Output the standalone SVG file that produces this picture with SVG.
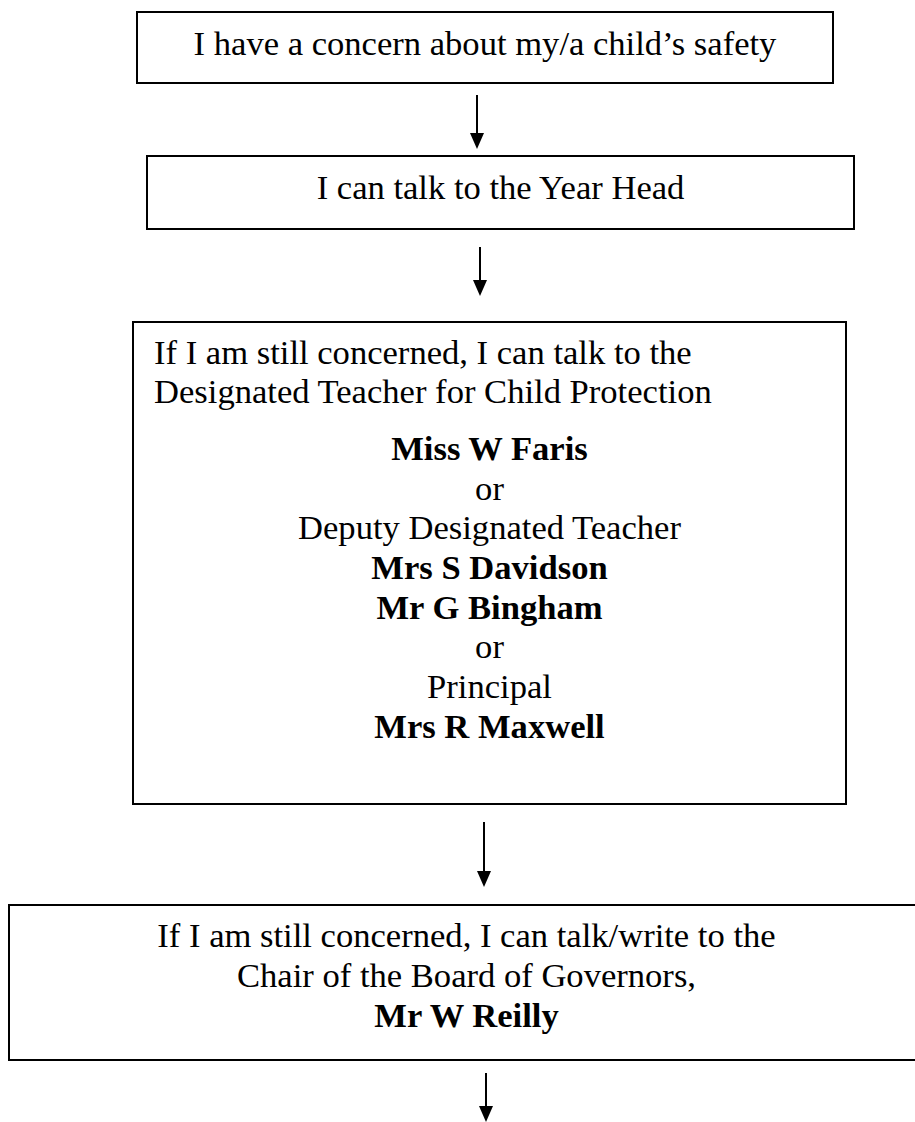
<svg xmlns="http://www.w3.org/2000/svg" width="915" height="1122" viewBox="0 0 915 1122">
<style>
.box{fill:#fff;stroke:#000;stroke-width:2}
.t{font-family:"Liberation Serif","Times New Roman",serif;font-size:34.6px;fill:#000}
.c{text-anchor:middle}
.b{font-weight:bold}
.conn{stroke:#000;stroke-width:2;fill:none}
.head{fill:#000}
</style>
<rect width="915" height="1122" fill="#fff"/>
<g id="connectors">
<path class="conn" d="M477,95 V133"/>
<path class="head" d="M470,133 L484,133 L477,149 Z"/>
<path class="conn" d="M480,247 V280"/>
<path class="head" d="M473,280 L487,280 L480,296 Z"/>
<path class="conn" d="M484,822 V871"/>
<path class="head" d="M477,871 L491,871 L484,887 Z"/>
<path class="conn" d="M486,1073 V1106"/>
<path class="head" d="M479,1106 L493,1106 L486,1122 Z"/>
</g>
<g id="node1">
<rect class="box" x="137" y="12" width="696" height="71"/>
<text class="t c" x="485" y="55">I have a concern about my/a child’s safety</text>
</g>
<g id="node2">
<rect class="box" x="147" y="156" width="707" height="73"/>
<text class="t c" x="500.5" y="199">I can talk to the Year Head</text>
</g>
<g id="node3">
<rect class="box" x="133" y="322" width="713" height="482"/>
<text class="t" x="154" y="364">If I am still concerned, I can talk to the</text>
<text class="t" x="154" y="403">Designated Teacher for Child Protection</text>
<text class="t c b" x="489.5" y="460">Miss W Faris</text>
<text class="t c" x="489.5" y="500">or</text>
<text class="t c" x="489.5" y="539">Deputy Designated Teacher</text>
<text class="t c b" x="489.5" y="579">Mrs S Davidson</text>
<text class="t c b" x="489.5" y="619">Mr G Bingham</text>
<text class="t c" x="489.5" y="658">or</text>
<text class="t c" x="489.5" y="698">Principal</text>
<text class="t c b" x="489.5" y="738">Mrs R Maxwell</text>
</g>
<g id="node4">
<rect class="box" x="9" y="905" width="914" height="155"/>
<text class="t c" x="466.5" y="947">If I am still concerned, I can talk/write to the</text>
<text class="t c" x="466.5" y="987">Chair of the Board of Governors,</text>
<text class="t c b" x="466.5" y="1027">Mr W Reilly</text>
</g>
</svg>
